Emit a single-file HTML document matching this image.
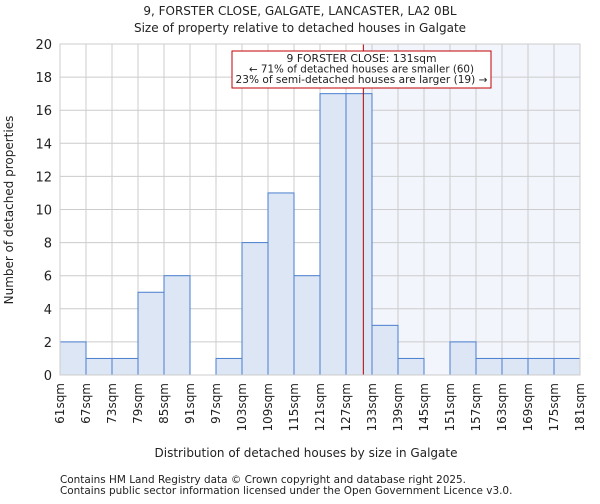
<!DOCTYPE html>
<html><head><meta charset="utf-8"><style>
body{margin:0;background:#fff;font-family:"DejaVu Sans","Liberation Sans",sans-serif;}
svg text{font-family:"DejaVu Sans","Liberation Sans",sans-serif;fill:#222;}
</style></head><body>
<svg id="chart" width="600" height="500" xmlns="http://www.w3.org/2000/svg">
<text x="300" y="15" text-anchor="middle" font-size="12">9, FORSTER CLOSE, GALGATE, LANCASTER, LA2 0BL</text>
<text x="300" y="32" text-anchor="middle" font-size="12">Size of property relative to detached houses in Galgate</text>
<g id="plot"></g>
<text x="306" y="457" text-anchor="middle" font-size="12">Distribution of detached houses by size in Galgate</text>
<text transform="translate(13,210) rotate(-90)" text-anchor="middle" font-size="12">Number of detached properties</text>
<text x="60" y="483" font-size="10.45">Contains HM Land Registry data © Crown copyright and database right 2025.</text>
<text x="60" y="494" font-size="10.45">Contains public sector information licensed under the Open Government Licence v3.0.</text>
</svg>
<script>
const binStarts=[61,67,73,79,85,91,97,103,109,115,121,127,133,139,145,151,157,163,169,175];
const counts=[2,1,1,5,6,0,1,8,11,6,17,17,3,1,0,2,1,1,1,1];
const yTicks=[0,2,4,6,8,10,12,14,16,18,20];
const xTickLabels=[61,67,73,79,85,91,97,103,109,115,121,127,133,139,145,151,157,163,169,175,181];
const propertySize=131;
const L=60,R=580,T=44,B=375,xMin=61,xMax=181,yMax=20;
const xs=v=>L+(v-xMin)/(xMax-xMin)*(R-L);
const ys=v=>B-v/yMax*(B-T);
const NS="http://www.w3.org/2000/svg";
const g=document.getElementById('plot');
function mk(t,a){const e=document.createElementNS(NS,t);for(const k in a)e.setAttribute(k,a[k]);g.appendChild(e);return e;}
let e;
e=mk('rect',{x:xs(propertySize),y:T,width:R-xs(propertySize),height:B-T,fill:'#f2f5fc'});


yTicks.forEach(v=>{
 e=mk('line',{x1:L,x2:R,y1:ys(v),y2:ys(v),stroke:'#ccc','stroke-width':1});
 
 
 e=mk('text',{x:L-8,y:ys(v)+5,'text-anchor':'end','font-size':13});e.textContent=v;
 
 
});
xTickLabels.forEach(v=>{
 e=mk('line',{x1:xs(v),x2:xs(v),y1:T,y2:B,stroke:'#ccc','stroke-width':1});
 
 
 e=mk('text',{transform:`translate(${xs(v)+4},${B+8}) rotate(-90)`,'text-anchor':'end','font-size':12});e.textContent=v+'sqm';
 
 
});
binStarts.forEach((s,i)=>{
 if(!counts[i])return;
 e=mk('rect',{x:xs(s),y:ys(counts[i]),width:xs(s+6)-xs(s),height:B-ys(counts[i]),fill:'#dce6f4',stroke:'#4a7fcf','stroke-width':1});
 
 
});
e=mk('line',{x1:xs(propertySize),x2:xs(propertySize),y1:T,y2:B,stroke:'#b00000','stroke-width':1});


e=mk('rect',{x:232,y:51,width:259,height:37,fill:'#fff',stroke:'#c00000','stroke-width':1});


const annW=[150,225,252];
['9 FORSTER CLOSE: 131sqm','← 71% of detached houses are smaller (60)','23% of semi-detached houses are larger (19) →'].forEach((t,i)=>{
 e=mk('text',{x:361.5,y:62+i*10.5,'text-anchor':'middle','font-size':10.3,textLength:annW[i],lengthAdjust:'spacingAndGlyphs'});e.textContent=t;
 
 
});
e=mk('rect',{x:L,y:T,width:R-L,height:B-T,fill:'none',stroke:'#ccc','stroke-width':1});


</script>
</body></html>
